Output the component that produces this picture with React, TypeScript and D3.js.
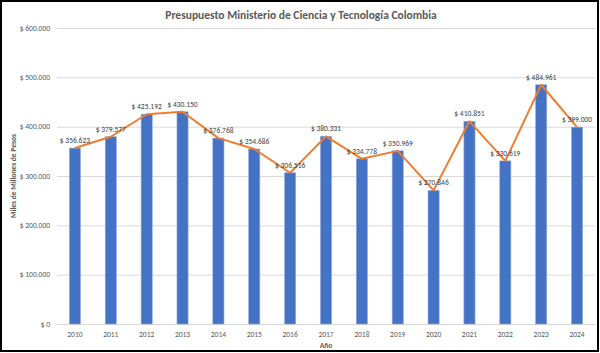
import { useEffect, useRef } from "react";
import * as d3 from "d3";

// Presupuesto por año (miles de millones de pesos)
const years = [
  "2010", "2011", "2012", "2013", "2014", "2015", "2016", "2017",
  "2018", "2019", "2020", "2021", "2022", "2023", "2024",
];
const budget = [
  356623, 379577, 425192, 430150, 376768, 354686, 306516, 380331,
  334778, 350969, 270846, 410851, 330619, 484961, 399000,
];
const yTicks = [0, 100000, 200000, 300000, 400000, 500000, 600000];

const fmt = (v: number) =>
  v === 0 ? "$ 0" : "$ " + d3.format(",")(v).replace(/,/g, ".");

const App = () => {
  const svgRef = useRef<SVGSVGElement>(null);

  useEffect(() => {
    const width = 600;
    const height = 353;
    const margin = { top: 28, right: 5, bottom: 29, left: 57 };
    const innerWidth = width - margin.left - margin.right;
    const innerHeight = height - margin.top - margin.bottom;
    const font = "Calibri, Carlito, 'Open Sans', sans-serif";

    const svg = d3.select(svgRef.current);
    svg.selectAll("*").remove();
    svg.attr("width", width).attr("height", height);

    svg.append("rect")
      .attr("width", width)
      .attr("height", height)
      .attr("fill", "#fff");

    const data = years.map((y, i) => ({ year: y, value: budget[i] }));

    const x = d3.scaleBand()
      .domain(years)
      .range([0, innerWidth])
      .paddingInner(0.69)
      .paddingOuter(0.345);

    const y = d3.scaleLinear()
      .domain([0, 600000])
      .range([innerHeight, 0]);

    const g = svg.append("g")
      .attr("transform", `translate(${margin.left},${margin.top})`);

    // grid
    g.append("g")
      .selectAll("line")
      .data(yTicks)
      .enter()
      .append("line")
      .attr("x1", 0)
      .attr("x2", innerWidth)
      .attr("y1", (d) => y(d) + 0.5)
      .attr("y2", (d) => y(d) + 0.5)
      .attr("stroke", "#d9d9d9")
      .attr("stroke-width", 1);

    // y labels
    g.append("g")
      .selectAll("text")
      .data(yTicks)
      .enter()
      .append("text")
      .attr("x", -7)
      .attr("y", (d) => y(d))
      .attr("dy", "0.35em")
      .attr("text-anchor", "end")
      .style("font-family", font)
      .style("font-size", "7.5px")
      .attr("fill", "#595959")
      .text((d) => fmt(d));

    // bars
    const barW = x.bandwidth();
    g.selectAll(".bar")
      .data(data)
      .enter()
      .append("rect")
      .attr("class", "bar")
      .attr("x", (d) => x(d.year)!)
      .attr("y", (d) => y(d.value))
      .attr("width", barW)
      .attr("height", (d) => innerHeight - y(d.value))
      .attr("fill", "#4472c4")
      .attr("stroke", "#8faadc")
      .attr("stroke-width", 0.6);

    // line
    const cx = (d: { year: string }) => x(d.year)! + barW / 2;
    const line = d3.line<{ year: string; value: number }>()
      .x(cx)
      .y((d) => y(d.value));

    g.append("path")
      .datum(data)
      .attr("fill", "none")
      .attr("stroke", "#ed7d31")
      .attr("stroke-width", 2)
      .attr("stroke-linejoin", "round")
      .attr("d", line);

    // data labels
    g.selectAll(".lbl")
      .data(data)
      .enter()
      .append("text")
      .attr("class", "lbl")
      .attr("x", cx)
      .attr("y", (d) => y(d.value) - 5)
      .attr("text-anchor", "middle")
      .style("font-family", font)
      .style("font-size", "7.5px")
      .attr("fill", "#404040")
      .text((d) => fmt(d.value));

    // x labels
    g.append("g")
      .selectAll("text")
      .data(years)
      .enter()
      .append("text")
      .attr("x", (d) => x(d)! + barW / 2)
      .attr("y", innerHeight + 10)
      .attr("dy", "0.35em")
      .attr("text-anchor", "middle")
      .style("font-family", font)
      .style("font-size", "7.5px")
      .attr("fill", "#595959")
      .text((d) => d);

    // title
    svg.append("text")
      .attr("x", 301)
      .attr("y", 14.5)
      .attr("dy", "0.35em")
      .attr("text-anchor", "middle")
      .style("font-family", font)
      .style("font-size", "11.5px")
      .style("font-weight", "bold")
      .attr("fill", "#595959")
      .text("Presupuesto Ministerio de Ciencia y Tecnología Colombia");

    // axis titles
    svg.append("text")
      .attr("x", margin.left + innerWidth / 2)
      .attr("y", 345.5)
      .attr("dy", "0.35em")
      .attr("text-anchor", "middle")
      .style("font-family", font)
      .style("font-size", "7.5px")
      .style("font-weight", "bold")
      .attr("fill", "#595959")
      .text("Año");

    svg.append("text")
      .attr("transform", `translate(13,${margin.top + innerHeight / 2}) rotate(-90)`)
      .attr("dy", "0.35em")
      .attr("text-anchor", "middle")
      .style("font-family", font)
      .style("font-size", "7.5px")
      .style("font-weight", "bold")
      .attr("fill", "#595959")
      .text("Miles de Millones de Pesos");

    // outer border
    svg.append("rect")
      .attr("x", 1)
      .attr("y", 1)
      .attr("width", 597)
      .attr("height", 350)
      .attr("fill", "none")
      .attr("stroke", "#000")
      .attr("stroke-width", 2);
  }, []);

  return (
    <div style={{ position: "absolute", left: 0, top: 0 }}>
      <svg ref={svgRef} style={{ display: "block" }}></svg>
    </div>
  );
};

export default App;
